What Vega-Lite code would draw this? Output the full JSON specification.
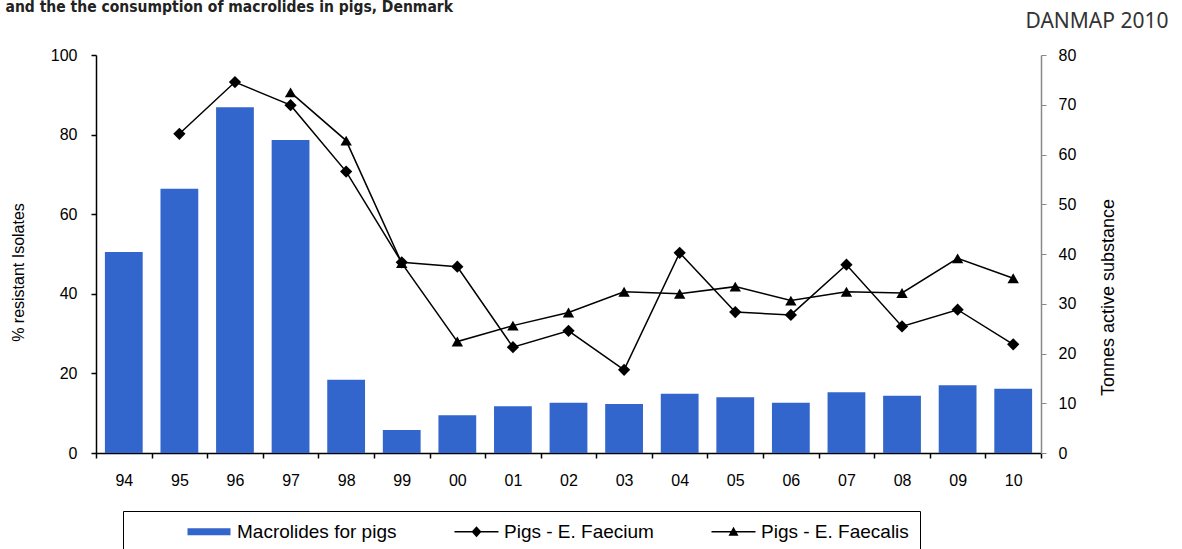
{
"$schema":"https://vega.github.io/schema/vega-lite/v6.json",
"width":945,"height":398,
"autosize":{"type":"none"},
"padding":{"left":96,"top":55,"right":141,"bottom":96},
"background":"white",
"config":{"view":{"stroke":null},"font":"Liberation Sans",
 "axis":{"grid":false,"labelFont":"Liberation Sans","labelFontSize":16,"labelColor":"black","titleFont":"Liberation Sans","titleFontSize":16,"titleFontWeight":"normal","titleColor":"black","tickSize":5}},
"datasets":{
 "bars":[
  {"year":"94","tonnes":40.4},{"year":"95","tonnes":53.1},{"year":"96","tonnes":69.5},{"year":"97","tonnes":62.9},
  {"year":"98","tonnes":14.7},{"year":"99","tonnes":4.6},{"year":"00","tonnes":7.6},{"year":"01","tonnes":9.4},
  {"year":"02","tonnes":10.1},{"year":"03","tonnes":9.85},{"year":"04","tonnes":11.9},{"year":"05","tonnes":11.2},
  {"year":"06","tonnes":10.1},{"year":"07","tonnes":12.2},{"year":"08","tonnes":11.5},{"year":"09","tonnes":13.6},{"year":"10","tonnes":12.9}],
 "faecium":[
  {"year":"95","pct":80.2},{"year":"96","pct":93.2},{"year":"97","pct":87.4},{"year":"98","pct":70.7},
  {"year":"99","pct":47.9},{"year":"00","pct":46.8},{"year":"01","pct":26.6},{"year":"02","pct":30.7},
  {"year":"03","pct":20.9},{"year":"04","pct":50.3},{"year":"05","pct":35.4},{"year":"06","pct":34.7},
  {"year":"07","pct":47.3},{"year":"08","pct":31.8},{"year":"09","pct":36.0},{"year":"10","pct":27.3}],
 "faecalis":[
  {"year":"97","pct":90.6},{"year":"98","pct":78.5},{"year":"99","pct":47.7},{"year":"00","pct":28.0},
  {"year":"01","pct":32.0},{"year":"02","pct":35.3},{"year":"03","pct":40.5},{"year":"04","pct":40.0},
  {"year":"05","pct":41.8},{"year":"06","pct":38.3},{"year":"07","pct":40.5},{"year":"08","pct":40.2},
  {"year":"09","pct":48.9},{"year":"10","pct":43.9}],
 "legend":[
  {"series":"Macrolides for pigs"},{"series":"Pigs - E. Faecium"},{"series":"Pigs - E. Faecalis"}]
},
"layer":[
 {"data":{"name":"bars"},
  "mark":{"type":"bar","color":"#3366CC","width":{"band":0.68}},
  "encoding":{
   "x":{"field":"year","type":"ordinal","sort":["94","95","96","97","98","99","00","01","02","03","04","05","06","07","08","09","10"],
        "scale":{"paddingInner":0,"paddingOuter":0},
        "axis":{"orient":"bottom","labelAngle":0,"tickBand":"extent","domainColor":"black","tickColor":"black","domainWidth":1.5,"tickWidth":1.5,"labelPadding":14,
                "title":"and the the consumption of macrolides in pigs, Denmark","titleX":-91,"titleY":-442,"titleAlign":"left","titleBaseline":"alphabetic","titleAnchor":"start","titleFont":"Liberation Sans Narrow, DejaVu Sans Condensed, Liberation Sans","titleFontSize":15.5,"titleFontWeight":"bold","titleColor":"#222"}},
   "y":{"field":"tonnes","type":"quantitative","scale":{"domain":[0,80],"nice":false},
        "axis":{"orient":"right","values":[0,10,20,30,40,50,60,70,80],"title":"Tonnes active substance","titleAngle":270,"titleFontSize":18,"titleY":242,"domainColor":"#888","tickColor":"#888","domainWidth":1.5,"labelPadding":12,"titlePadding":42}}}},
 {"encoding":{
   "x":{"field":"year","type":"ordinal","sort":["94","95","96","97","98","99","00","01","02","03","04","05","06","07","08","09","10"],
        "scale":{"paddingInner":0,"paddingOuter":0},
        "axis":{"orient":"top","domain":false,"ticks":false,"labels":false,"title":"DANMAP 2010","titleX":1072,"titleY":-28,"titleAlign":"right","titleBaseline":"alphabetic","titleAngle":0,"titleFont":"Noto Sans","titleFontSize":21,"titleColor":"#333"}},
   "y":{"field":"pct","type":"quantitative","scale":{"domain":[0,100],"nice":false},
        "axis":{"orient":"left","values":[0,20,40,60,80,100],"title":"% resistant Isolates","titleY":217,"domainColor":"black","tickColor":"black","domainWidth":1.5,"tickWidth":1.5,"labelPadding":14,"titlePadding":24}}},
  "layer":[
   {"data":{"name":"faecium"},
    "mark":{"type":"line","color":"black","strokeWidth":1.5,"point":{"shape":"diamond","size":150,"filled":true,"color":"black","opacity":1}}},
   {"data":{"name":"faecalis"},
    "mark":{"type":"line","color":"black","strokeWidth":1.5,"point":{"shape":"triangle-up","size":130,"filled":true,"color":"black","opacity":1}}},
   {"data":{"name":"legend"},
    "transform":[{"filter":"false"}],
    "mark":{"type":"point","filled":true,"opacity":1,"strokeWidth":0},
    "encoding":{
     "color":{"field":"series","type":"nominal",
       "scale":{"domain":["Macrolides for pigs","Pigs - E. Faecium","Pigs - E. Faecalis"],"range":["#3366CC","black","black"]},
       "legend":{"orient":"none","legendX":27,"legendY":456,"direction":"horizontal","columns":3,
                 "title":"\u00a0\u00a0\u00a0\u00a0\u00a0\u00a0\u00a0","titleOrient":"right","titlePadding":0,"titleFontSize":19,"titleFont":"Liberation Sans","titleLimit":400,
                 "strokeColor":"black","fillColor":"white","padding":11,"columnPadding":4,"labelFont":"Liberation Sans","labelFontSize":19,"labelColor":"black","labelLimit":400,"symbolSize":4,"symbolOffset":66,"labelOffset":18,"symbolStrokeWidth":0}},
     "shape":{"field":"series","type":"nominal",
       "scale":{"domain":["Macrolides for pigs","Pigs - E. Faecium","Pigs - E. Faecalis"],
                "range":["M-22,-3.5H21V3.5H-22Z","M-22,-0.75H22V0.75H-22ZM0,-5.5L5,0L0,5.5L-5,0Z","M-22,-0.75H22V0.75H-22ZM0,-5L5,4H-5Z"]},
       "legend":{"orient":"none","legendX":27,"legendY":456,"direction":"horizontal","columns":3,
                 "title":"\u00a0\u00a0\u00a0\u00a0\u00a0\u00a0\u00a0","titleOrient":"right","titlePadding":0,"titleFontSize":19,"titleFont":"Liberation Sans","titleLimit":400,
                 "strokeColor":"black","fillColor":"white","padding":11,"columnPadding":4,"labelFont":"Liberation Sans","labelFontSize":19,"labelColor":"black","labelLimit":400,"symbolSize":4,"symbolOffset":66,"labelOffset":18,"symbolStrokeWidth":0}}}}
  ]}
],
"resolve":{"scale":{"y":"independent"},"axis":{"x":"independent"}}
}
